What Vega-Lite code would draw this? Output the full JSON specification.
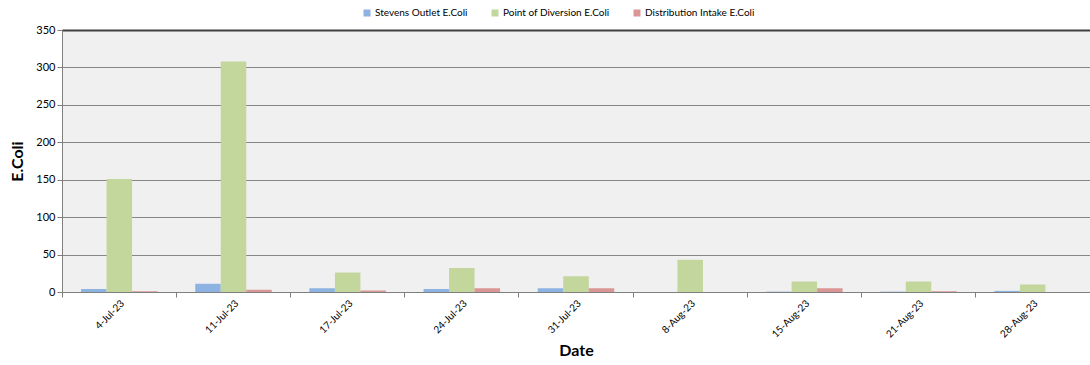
{
  "$schema": "https://vega.github.io/schema/vega-lite/v6.json",
  "width": 1028,
  "height": 262,
  "autosize": "none",
  "padding": {"left": 62, "top": 30, "right": 0, "bottom": 73},
  "background": "white",
  "config": {
    "font": "Lato",
    "view": {"fill": "#f0f0f0", "stroke": "#7f7f7f", "strokeWidth": 1}
  },
  "data": {
    "values": [
      {"date": "4-Jul-23", "series": "Stevens Outlet E.Coli", "value": 4},
      {"date": "4-Jul-23", "series": "Point of Diversion E.Coli", "value": 151},
      {"date": "4-Jul-23", "series": "Distribution Intake E.Coli", "value": 1},
      {"date": "11-Jul-23", "series": "Stevens Outlet E.Coli", "value": 11},
      {"date": "11-Jul-23", "series": "Point of Diversion E.Coli", "value": 308},
      {"date": "11-Jul-23", "series": "Distribution Intake E.Coli", "value": 3},
      {"date": "17-Jul-23", "series": "Stevens Outlet E.Coli", "value": 5},
      {"date": "17-Jul-23", "series": "Point of Diversion E.Coli", "value": 26},
      {"date": "17-Jul-23", "series": "Distribution Intake E.Coli", "value": 2},
      {"date": "24-Jul-23", "series": "Stevens Outlet E.Coli", "value": 4},
      {"date": "24-Jul-23", "series": "Point of Diversion E.Coli", "value": 32},
      {"date": "24-Jul-23", "series": "Distribution Intake E.Coli", "value": 5},
      {"date": "31-Jul-23", "series": "Stevens Outlet E.Coli", "value": 5},
      {"date": "31-Jul-23", "series": "Point of Diversion E.Coli", "value": 21},
      {"date": "31-Jul-23", "series": "Distribution Intake E.Coli", "value": 5},
      {"date": "8-Aug-23", "series": "Stevens Outlet E.Coli", "value": 0},
      {"date": "8-Aug-23", "series": "Point of Diversion E.Coli", "value": 43},
      {"date": "8-Aug-23", "series": "Distribution Intake E.Coli", "value": 0},
      {"date": "15-Aug-23", "series": "Stevens Outlet E.Coli", "value": 0.5},
      {"date": "15-Aug-23", "series": "Point of Diversion E.Coli", "value": 14},
      {"date": "15-Aug-23", "series": "Distribution Intake E.Coli", "value": 5},
      {"date": "21-Aug-23", "series": "Stevens Outlet E.Coli", "value": 0.5},
      {"date": "21-Aug-23", "series": "Point of Diversion E.Coli", "value": 14},
      {"date": "21-Aug-23", "series": "Distribution Intake E.Coli", "value": 1},
      {"date": "28-Aug-23", "series": "Stevens Outlet E.Coli", "value": 1.5},
      {"date": "28-Aug-23", "series": "Point of Diversion E.Coli", "value": 10},
      {"date": "28-Aug-23", "series": "Distribution Intake E.Coli", "value": 0}
    ]
  },
  "resolve": {"axis": {"x": "independent"}},
  "layer": [
    {
      "mark": {"type": "bar"},
      "encoding": {
        "x": {
          "field": "date",
          "type": "nominal",
          "sort": null,
          "scale": {"paddingInner": 0.33, "paddingOuter": 0.167},
          "axis": {
            "orient": "bottom",
            "title": "Date",
            "titleFontSize": 16,
            "titleFontWeight": "bold",
            "titleColor": "black",
            "titlePadding": 3,
            "labelAngle": -45,
            "labelFontSize": 10,
            "labelColor": "black",
            "labelPadding": 6,
            "ticks": false,
            "domain": true,
            "domainColor": "#7f7f7f",
            "grid": false
          }
        },
        "xOffset": {
          "field": "series",
          "type": "nominal",
          "sort": ["Stevens Outlet E.Coli", "Point of Diversion E.Coli", "Distribution Intake E.Coli"],
          "scale": {"paddingInner": 0, "paddingOuter": 0}
        },
        "y": {
          "field": "value",
          "type": "quantitative",
          "scale": {"domain": [0, 350]},
          "axis": {
            "title": "E.Coli",
            "titleFontSize": 16,
            "titleFontWeight": "bold",
            "titleColor": "black",
            "titlePadding": 10,
            "values": [0, 50, 100, 150, 200, 250, 300, 350],
            "labelFontSize": 11,
            "labelColor": "black",
            "tickColor": "#7f7f7f",
            "tickSize": 5,
            "domainColor": "#7f7f7f",
            "gridColor": {"condition": {"test": "datum.value == 350", "value": "#404040"}, "value": "#868686"},
            "gridWidth": {"condition": {"test": "datum.value == 350", "value": 2}, "value": 1},
            "gridOpacity": 1
          }
        },
        "color": {
          "field": "series",
          "type": "nominal",
          "sort": ["Stevens Outlet E.Coli", "Point of Diversion E.Coli", "Distribution Intake E.Coli"],
          "scale": {
            "domain": ["Stevens Outlet E.Coli", "Point of Diversion E.Coli", "Distribution Intake E.Coli"],
            "range": ["#8db3e2", "#c3d69b", "#d99694"]
          },
          "legend": {
            "title": null,
            "orient": "none",
            "direction": "horizontal",
            "legendX": 300,
            "legendY": -22,
            "symbolType": "square",
            "symbolSize": 49,
            "symbolStrokeWidth": 0,
            "labelFontSize": 10,
            "labelColor": "black",
            "columnPadding": 22,
            "labelOffset": 3
          }
        }
      }
    },
    {
      "mark": {"type": "bar", "opacity": 0},
      "encoding": {
        "x": {
          "field": "date",
          "type": "nominal",
          "sort": null,
          "axis": {
            "orient": "bottom",
            "title": null,
            "labels": false,
            "domain": false,
            "grid": false,
            "ticks": true,
            "tickSize": 5,
            "tickColor": "#7f7f7f",
            "bandPosition": -0.246
          }
        }
      }
    }
  ]
}
